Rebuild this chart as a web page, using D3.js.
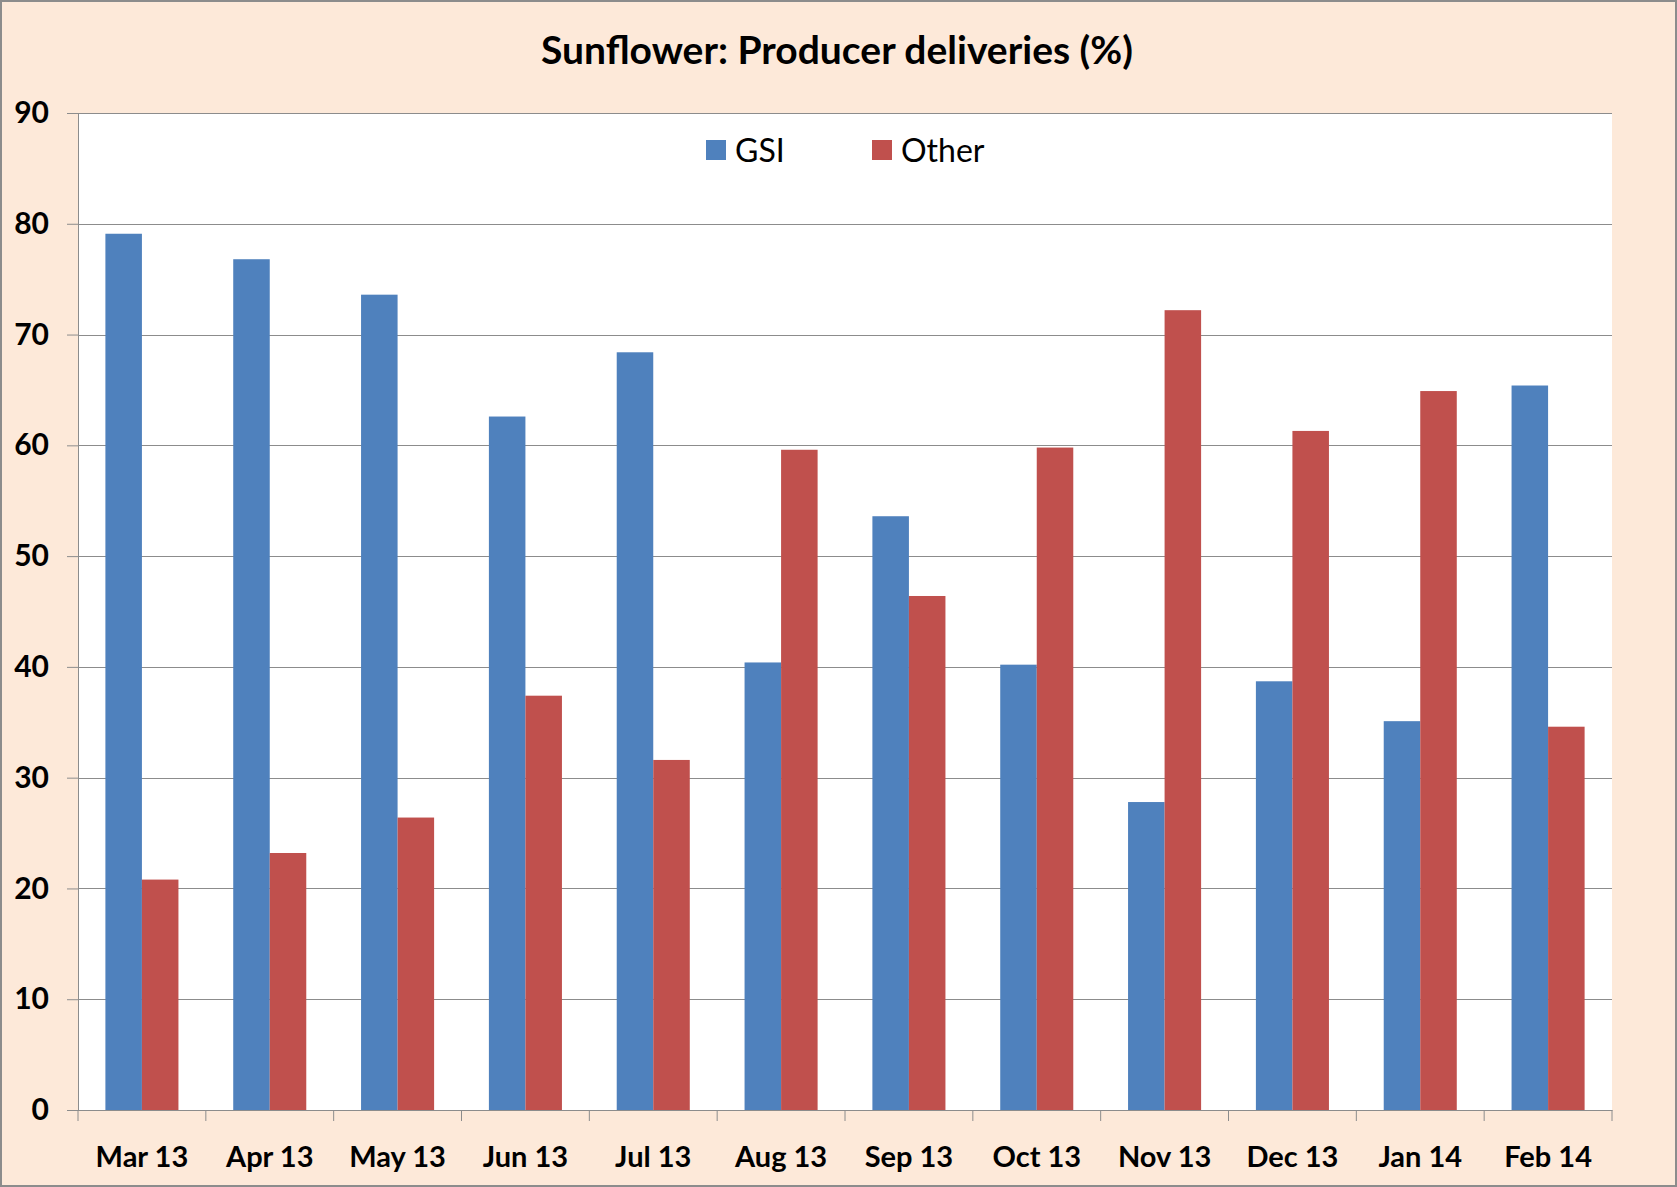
<!DOCTYPE html>
<html>
<head>
<meta charset="utf-8">
<script src="https://cdn.jsdelivr.net/npm/d3@7"></script>
<style>
  body { margin: 0; background: #fde9d9; }
  svg { display: block; }
  .tick text { font-family: Lato, sans-serif; font-weight: bold; fill: #000; }
</style>
</head>
<body>
<svg width="1677" height="1187"></svg>
<script>
var months = ["Mar 13", "Apr 13", "May 13", "Jun 13", "Jul 13", "Aug 13",
              "Sep 13", "Oct 13", "Nov 13", "Dec 13", "Jan 14", "Feb 14"];
var gsi = [79.1, 76.8, 73.6, 62.6, 68.4, 40.4, 53.6, 40.2, 27.8, 38.7, 35.1, 65.4];
var other = [20.8, 23.2, 26.4, 37.4, 31.6, 59.6, 46.4, 59.8, 72.2, 61.3, 64.9, 34.6];
var yTicks = [0, 10, 20, 30, 40, 50, 60, 70, 80, 90];
var keys = ["GSI", "Other"];

var svg = d3.select("svg"),
    margin = { top: 113, right: 65, bottom: 77, left: 78 },
    width = +svg.attr("width") - margin.left - margin.right,
    height = +svg.attr("height") - margin.top - margin.bottom;

var data = months.map(function (m, i) {
  return { month: m, GSI: gsi[i], Other: other[i] };
});

var x0 = d3.scaleBand().domain(months).range([0, width]);
var x1 = d3.scaleBand().domain(keys).range([0, x0.bandwidth()]).paddingInner(0).paddingOuter(0.75);
var y = d3.scaleLinear().domain([0, 90]).range([height, 0]);
var z = d3.scaleOrdinal().domain(keys).range(["#4f81bd", "#c0504d"]);

// chart area border
svg.append("rect").attr("x", 1).attr("y", 1).attr("width", 1675).attr("height", 1185)
  .attr("fill", "#fde9d9").attr("stroke", "#8c8c8c").attr("stroke-width", 2);

svg.append("text").attr("x", 837).attr("y", 64).attr("text-anchor", "middle")
  .attr("font-family", "Lato, sans-serif").attr("font-weight", "bold").attr("font-size", 39)
  .text("Sunflower: Producer deliveries (%)");

var g = svg.append("g").attr("transform", "translate(" + margin.left + "," + margin.top + ")");

g.append("rect").attr("width", width).attr("height", height).attr("fill", "#fff");

// gridlines
g.append("g").selectAll("line").data(yTicks).enter().append("line")
  .attr("x1", 0).attr("x2", width)
  .attr("y1", function (d) { return Math.round(y(d)) + 0.5; })
  .attr("y2", function (d) { return Math.round(y(d)) + 0.5; })
  .attr("stroke", "#8c8c8c").attr("stroke-width", 1);

// bars
g.append("g").selectAll("g").data(data).enter().append("g")
  .attr("transform", function (d) { return "translate(" + x0(d.month) + ",0)"; })
  .selectAll("rect").data(function (d) {
    return keys.map(function (key) { return { key: key, value: d[key] }; });
  }).enter().append("rect")
  .attr("x", function (d) { return x1(d.key); })
  .attr("y", function (d) { return y(d.value); })
  .attr("width", x1.bandwidth())
  .attr("height", function (d) { return height - y(d.value); })
  .attr("fill", function (d) { return z(d.key); });

// y axis
var yAxis = g.append("g").call(d3.axisLeft(y).tickValues(yTicks).tickSize(11).tickPadding(18));
yAxis.selectAll("text").attr("font-size", 30);
yAxis.selectAll("line, path").attr("stroke", "#8c8c8c");

// x axis: ticks on category boundaries
var xAxis = g.append("g").attr("transform", "translate(0," + height + ")")
  .call(d3.axisBottom(x0).tickSize(0).tickPadding(36));
xAxis.selectAll("text").attr("font-size", 29);
xAxis.select("path").attr("stroke", "#8c8c8c");
xAxis.selectAll(".sep").data(months.concat(["end"])).enter().append("line")
  .attr("class", "sep")
  .attr("x1", function (d) { return d === "end" ? width : x0(d); })
  .attr("x2", function (d) { return d === "end" ? width : x0(d); })
  .attr("y1", 0).attr("y2", 11)
  .attr("stroke", "#8c8c8c");

// legend
var legend = svg.append("g").attr("font-family", "Lato, sans-serif").attr("font-size", 32)
  .selectAll("g").data(keys).enter().append("g")
  .attr("transform", function (d, i) { return "translate(" + (706 + i * 166) + ",140)"; });
legend.append("rect").attr("width", 20).attr("height", 20).attr("fill", z);
legend.append("text").attr("x", 29).attr("y", 22).text(function (d) { return d; });
</script>
</body>
</html>
